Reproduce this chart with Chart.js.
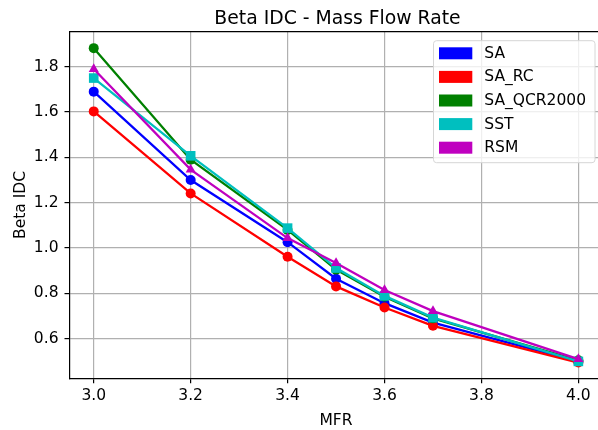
<!DOCTYPE html>
<html>
<head>
<meta charset="utf-8">
<script src="https://cdn.jsdelivr.net/npm/chart.js@4/dist/chart.umd.min.js"></script>
<style>
html,body{margin:0;padding:0;background:#fff;overflow:hidden;width:598px;height:430px;}
canvas{display:block;}
</style>
</head>
<body>
<canvas id="c" width="598" height="430" style="width:598px;height:430px"></canvas>
<script>
// ---- data ----
const mfr = [3.0, 3.2, 3.4, 3.5, 3.6, 3.7, 4.0];
const seriesNames = ['SA', 'SA_RC', 'SA_QCR2000', 'SST', 'RSM'];
const saValues = [1.69, 1.30, 1.026, 0.865, 0.757, 0.671, 0.500];
const saRcValues = [1.603, 1.241, 0.962, 0.831, 0.738, 0.657, 0.495];
const saQcrValues = [1.882, 1.39, 1.08, 0.905, 0.785, 0.690, 0.505];
const sstValues = [1.75, 1.407, 1.088, 0.912, 0.789, 0.693, 0.500];
const rsmValues = [1.79, 1.346, 1.044, 0.934, 0.815, 0.722, 0.510];
const xTicks = [3.0, 3.2, 3.4, 3.6, 3.8, 4.0];
const yTicks = [0.6, 0.8, 1.0, 1.2, 1.4, 1.6, 1.8];
const titleText = 'Beta IDC - Mass Flow Rate';
const xLabel = 'MFR';
const yLabel = 'Beta IDC';

const colors = ['#0000ff', '#ff0000', '#008000', '#00bfbf', '#bf00bf'];
const styles = ['circle', 'circle', 'circle', 'rect', 'triangle'];
const radii = [5, 5, 5, 6.8, 5.8];
const allValues = [saValues, saRcValues, saQcrValues, sstValues, rsmValues];

const FONT = "'DejaVu Sans', sans-serif";
const AREA = {left: 69.5, right: 602.6, top: 31.7, bottom: 378.3};

const datasets = seriesNames.map((name, i) => ({
  label: name,
  data: mfr.map((x, j) => ({x: x, y: allValues[i][j]})),
  borderColor: colors[i],
  backgroundColor: colors[i],
  borderWidth: 2.3,
  pointStyle: styles[i],
  pointRadius: radii[i],
  pointBorderWidth: 0,
  pointBackgroundColor: colors[i],
  order: seriesNames.length - i,
  tension: 0,
  fill: false,
  clip: false
}));

const onTick = (list, c) => c.tick && list.some(v => Math.abs(v - c.tick.value) < 1e-6);
const gridColor = list => c => onTick(list, c) ? '#b0b0b0' : 'rgba(0,0,0,0)';
const tickColor = list => c => onTick(list, c) ? '#000' : 'rgba(0,0,0,0)';

const fixArea = {
  id: 'fixArea',
  afterLayout(chart) {
    const ca = chart.chartArea;
    ca.left = AREA.left; ca.right = AREA.right; ca.top = AREA.top; ca.bottom = AREA.bottom;
    ca.width = ca.right - ca.left; ca.height = ca.bottom - ca.top;
    const xs = chart.scales.x, ys = chart.scales.y;
    xs.left = AREA.left; xs.right = AREA.right; xs.width = xs.right - xs.left;
    xs.top = AREA.bottom; xs.bottom = 430; xs.height = xs.bottom - xs.top;
    ys.left = 0; ys.right = AREA.left; ys.width = AREA.left;
    ys.top = AREA.top; ys.bottom = AREA.bottom; ys.height = ys.bottom - ys.top;
    xs.configure(); ys.configure();
    xs._labelItems = null; ys._labelItems = null;
    xs._gridLineItems = null; ys._gridLineItems = null;
  }
};

const decor = {
  id: 'decor',
  afterDraw(chart) {
    const ctx = chart.ctx;
    const a = chart.chartArea;
    ctx.save();
    // top frame line
    ctx.strokeStyle = '#000';
    ctx.lineWidth = 1.2;
    ctx.beginPath();
    ctx.moveTo(a.left, a.top);
    ctx.lineTo(a.right + 2, a.top);
    ctx.stroke();
    // title
    ctx.fillStyle = '#000';
    ctx.font = '18.8px ' + FONT;
    ctx.textAlign = 'center';
    ctx.textBaseline = 'alphabetic';
    ctx.fillText(titleText, 337.5, 23.5);
    // x label
    ctx.font = '15.5px ' + FONT;
    ctx.fillText(xLabel, 336, 424.5);
    // y label
    ctx.save();
    ctx.translate(25, (a.top + a.bottom) / 2);
    ctx.rotate(-Math.PI / 2);
    ctx.fillText(yLabel, 0, 0);
    ctx.restore();
    // legend
    const lx = 433.5, ly = 40.7, lw = 161.5, lh = 122;
    ctx.beginPath();
    const r = 3;
    ctx.moveTo(lx + r, ly);
    ctx.arcTo(lx + lw, ly, lx + lw, ly + lh, r);
    ctx.arcTo(lx + lw, ly + lh, lx, ly + lh, r);
    ctx.arcTo(lx, ly + lh, lx, ly, r);
    ctx.arcTo(lx, ly, lx + lw, ly, r);
    ctx.closePath();
    ctx.fillStyle = 'rgba(255,255,255,0.8)';
    ctx.fill();
    ctx.strokeStyle = '#d6d6d6';
    ctx.lineWidth = 1;
    ctx.stroke();
    ctx.textAlign = 'left';
    ctx.textBaseline = 'middle';
    ctx.font = '15.5px ' + FONT;
    seriesNames.forEach((name, i) => {
      const cy = 53.3 + i * 23.6;
      ctx.fillStyle = colors[i];
      ctx.fillRect(439, cy - 6, 33.3, 12);
      ctx.fillStyle = '#000';
      ctx.fillText(name, 484.3, cy + 0.5);
    });
    ctx.restore();
  }
};

new Chart(document.getElementById('c'), {
  type: 'line',
  data: {datasets: datasets},
  options: {
    responsive: false,
    animation: false,
    devicePixelRatio: 1,
    layout: {padding: {left: 0, right: 0, top: 31.7, bottom: 0}},
    plugins: {legend: {display: false}, tooltip: {enabled: false}, title: {display: false}},
    scales: {
      x: {
        type: 'linear',
        min: 2.95,
        max: 4.05,
        afterBuildTicks: s => { s.ticks = xTicks.map(v => ({value: v})); },
        afterFit: s => { s.height = 51.7; },
        ticks: {
          color: '#000',
          font: {family: FONT, size: 15.5},
          padding: 3.7,
          maxRotation: 0,
          autoSkip: false,
          callback: v => xTicks.some(t => Math.abs(t - v) < 1e-6) ? Number(v).toFixed(1) : ''
        },
        grid: {color: gridColor(xTicks), lineWidth: 1.2, tickColor: tickColor(xTicks), tickLength: 5, tickWidth: 1.2},
        border: {display: true, color: '#000', width: 1.2}
      },
      y: {
        type: 'linear',
        min: 0.4255,
        max: 1.9545,
        afterBuildTicks: s => { s.ticks = yTicks.map(v => ({value: v})); },
        afterFit: s => { s.width = 69.5; },
        ticks: {
          color: '#000',
          font: {family: FONT, size: 15.5},
          padding: 6,
          autoSkip: false,
          callback: v => yTicks.some(t => Math.abs(t - v) < 1e-6) ? Number(v).toFixed(1) : ''
        },
        grid: {color: gridColor(yTicks), lineWidth: 1.2, tickColor: tickColor(yTicks), tickLength: 5, tickWidth: 1.2},
        border: {display: true, color: '#000', width: 1.2}
      }
    }
  },
  plugins: [fixArea, decor]
});
</script>
</body>
</html>
